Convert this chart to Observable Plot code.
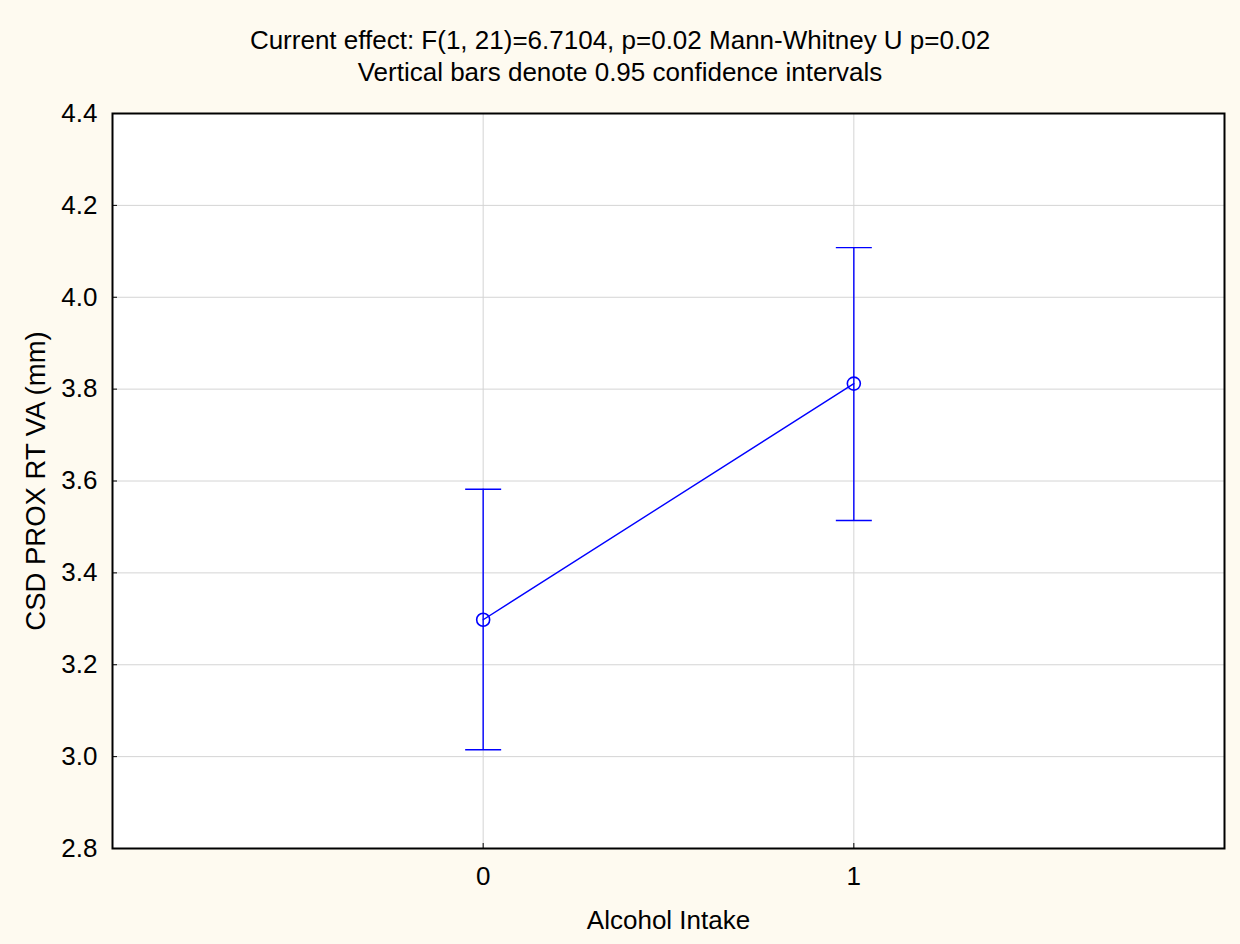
<!DOCTYPE html>
<html>
<head>
<meta charset="utf-8">
<script src="https://cdn.jsdelivr.net/npm/d3@7"></script>
<script src="https://cdn.jsdelivr.net/npm/@observablehq/plot@0.6"></script>
<style>
  html, body { margin: 0; padding: 0; background: #fefaf0; }
  body { width: 1240px; height: 944px; overflow: hidden; font-family: "Liberation Sans", Arial, sans-serif; }
  #title { padding-top: 24px; height: 64px; text-align: center; font-size: 26px; line-height: 32px; color: #000; }
  svg { display: block; }
</style>
</head>
<body>
<div id="title">
  <div>Current effect: F(1, 21)=6.7104, p=0.02 Mann-Whitney U p=0.02</div>
  <div>Vertical bars denote 0.95 confidence intervals</div>
</div>
<div id="chart"></div>
<script>
const groups = [0, 1];
const means = [3.298, 3.812];
const lower = [3.015, 3.514];
const upper = [3.582, 4.108];
const yTicks = [2.8, 3.0, 3.2, 3.4, 3.6, 3.8, 4.0, 4.2, 4.4];
const xTicks = [0, 1];
const xLabel = "Alcohol Intake";
const yLabel = "CSD PROX RT VA (mm)";

const data = groups.map((g, i) => ({g, mean: means[i], lo: lower[i], hi: upper[i]}));

const capSymbol = {
  draw(context, size) {
    const r = Math.sqrt(size / Math.PI);
    context.moveTo(-r, 0);
    context.lineTo(r, 0);
  }
};

const blue = "#0000ff";

const chart = Plot.plot({
  width: 1240,
  height: 856,
  marginTop: 25,
  marginBottom: 96,
  marginLeft: 112,
  marginRight: 16,
  style: {fontFamily: "'Liberation Sans', Arial, sans-serif", fontSize: "26px", background: "transparent", color: "#000"},
  x: {domain: [-1, 2]},
  y: {domain: [2.8, 4.4]},
  marks: [
    Plot.frame({fill: "white", stroke: null}),
    Plot.gridY(yTicks, {stroke: "#d4d4d4", strokeOpacity: 1}),
    Plot.gridX(xTicks, {stroke: "#d4d4d4", strokeOpacity: 1}),
    Plot.axisY(yTicks, {tickSize: 0, tickPadding: 15, tickFormat: d3.format(".1f"), label: null}),
    Plot.axisY(yTicks, {tickSize: 0, text: null, label: yLabel, fontSize: 27.5, labelAnchor: "center", labelArrow: "none", labelOffset: 87, dx: 0, dy: -8}),
    Plot.axisY(yTicks, {tickSize: -5, text: null, label: null, stroke: "#000"}),
    Plot.axisX(xTicks, {tickSize: 0, tickPadding: 18, tickFormat: d3.format("d"), label: xLabel, labelAnchor: "center", labelArrow: "none", labelOffset: 80}),
    Plot.axisX(xTicks, {tickSize: -5, text: null, label: null, stroke: "#000"}),
    Plot.ruleX(data, {x: "g", y1: "lo", y2: "hi", stroke: blue, strokeWidth: 1.4}),
    Plot.dot(data, {x: "g", y: "lo", symbol: capSymbol, r: 18, stroke: blue, strokeWidth: 1.4}),
    Plot.dot(data, {x: "g", y: "hi", symbol: capSymbol, r: 18, stroke: blue, strokeWidth: 1.4}),
    Plot.line(data, {x: "g", y: "mean", stroke: blue, strokeWidth: 1.4}),
    Plot.dot(data, {x: "g", y: "mean", r: 6.5, stroke: blue, strokeWidth: 1.6, fill: "none"}),
    Plot.frame({stroke: "#000", strokeWidth: 2})
  ]
});
document.getElementById("chart").appendChild(chart);
</script>
</body>
</html>
